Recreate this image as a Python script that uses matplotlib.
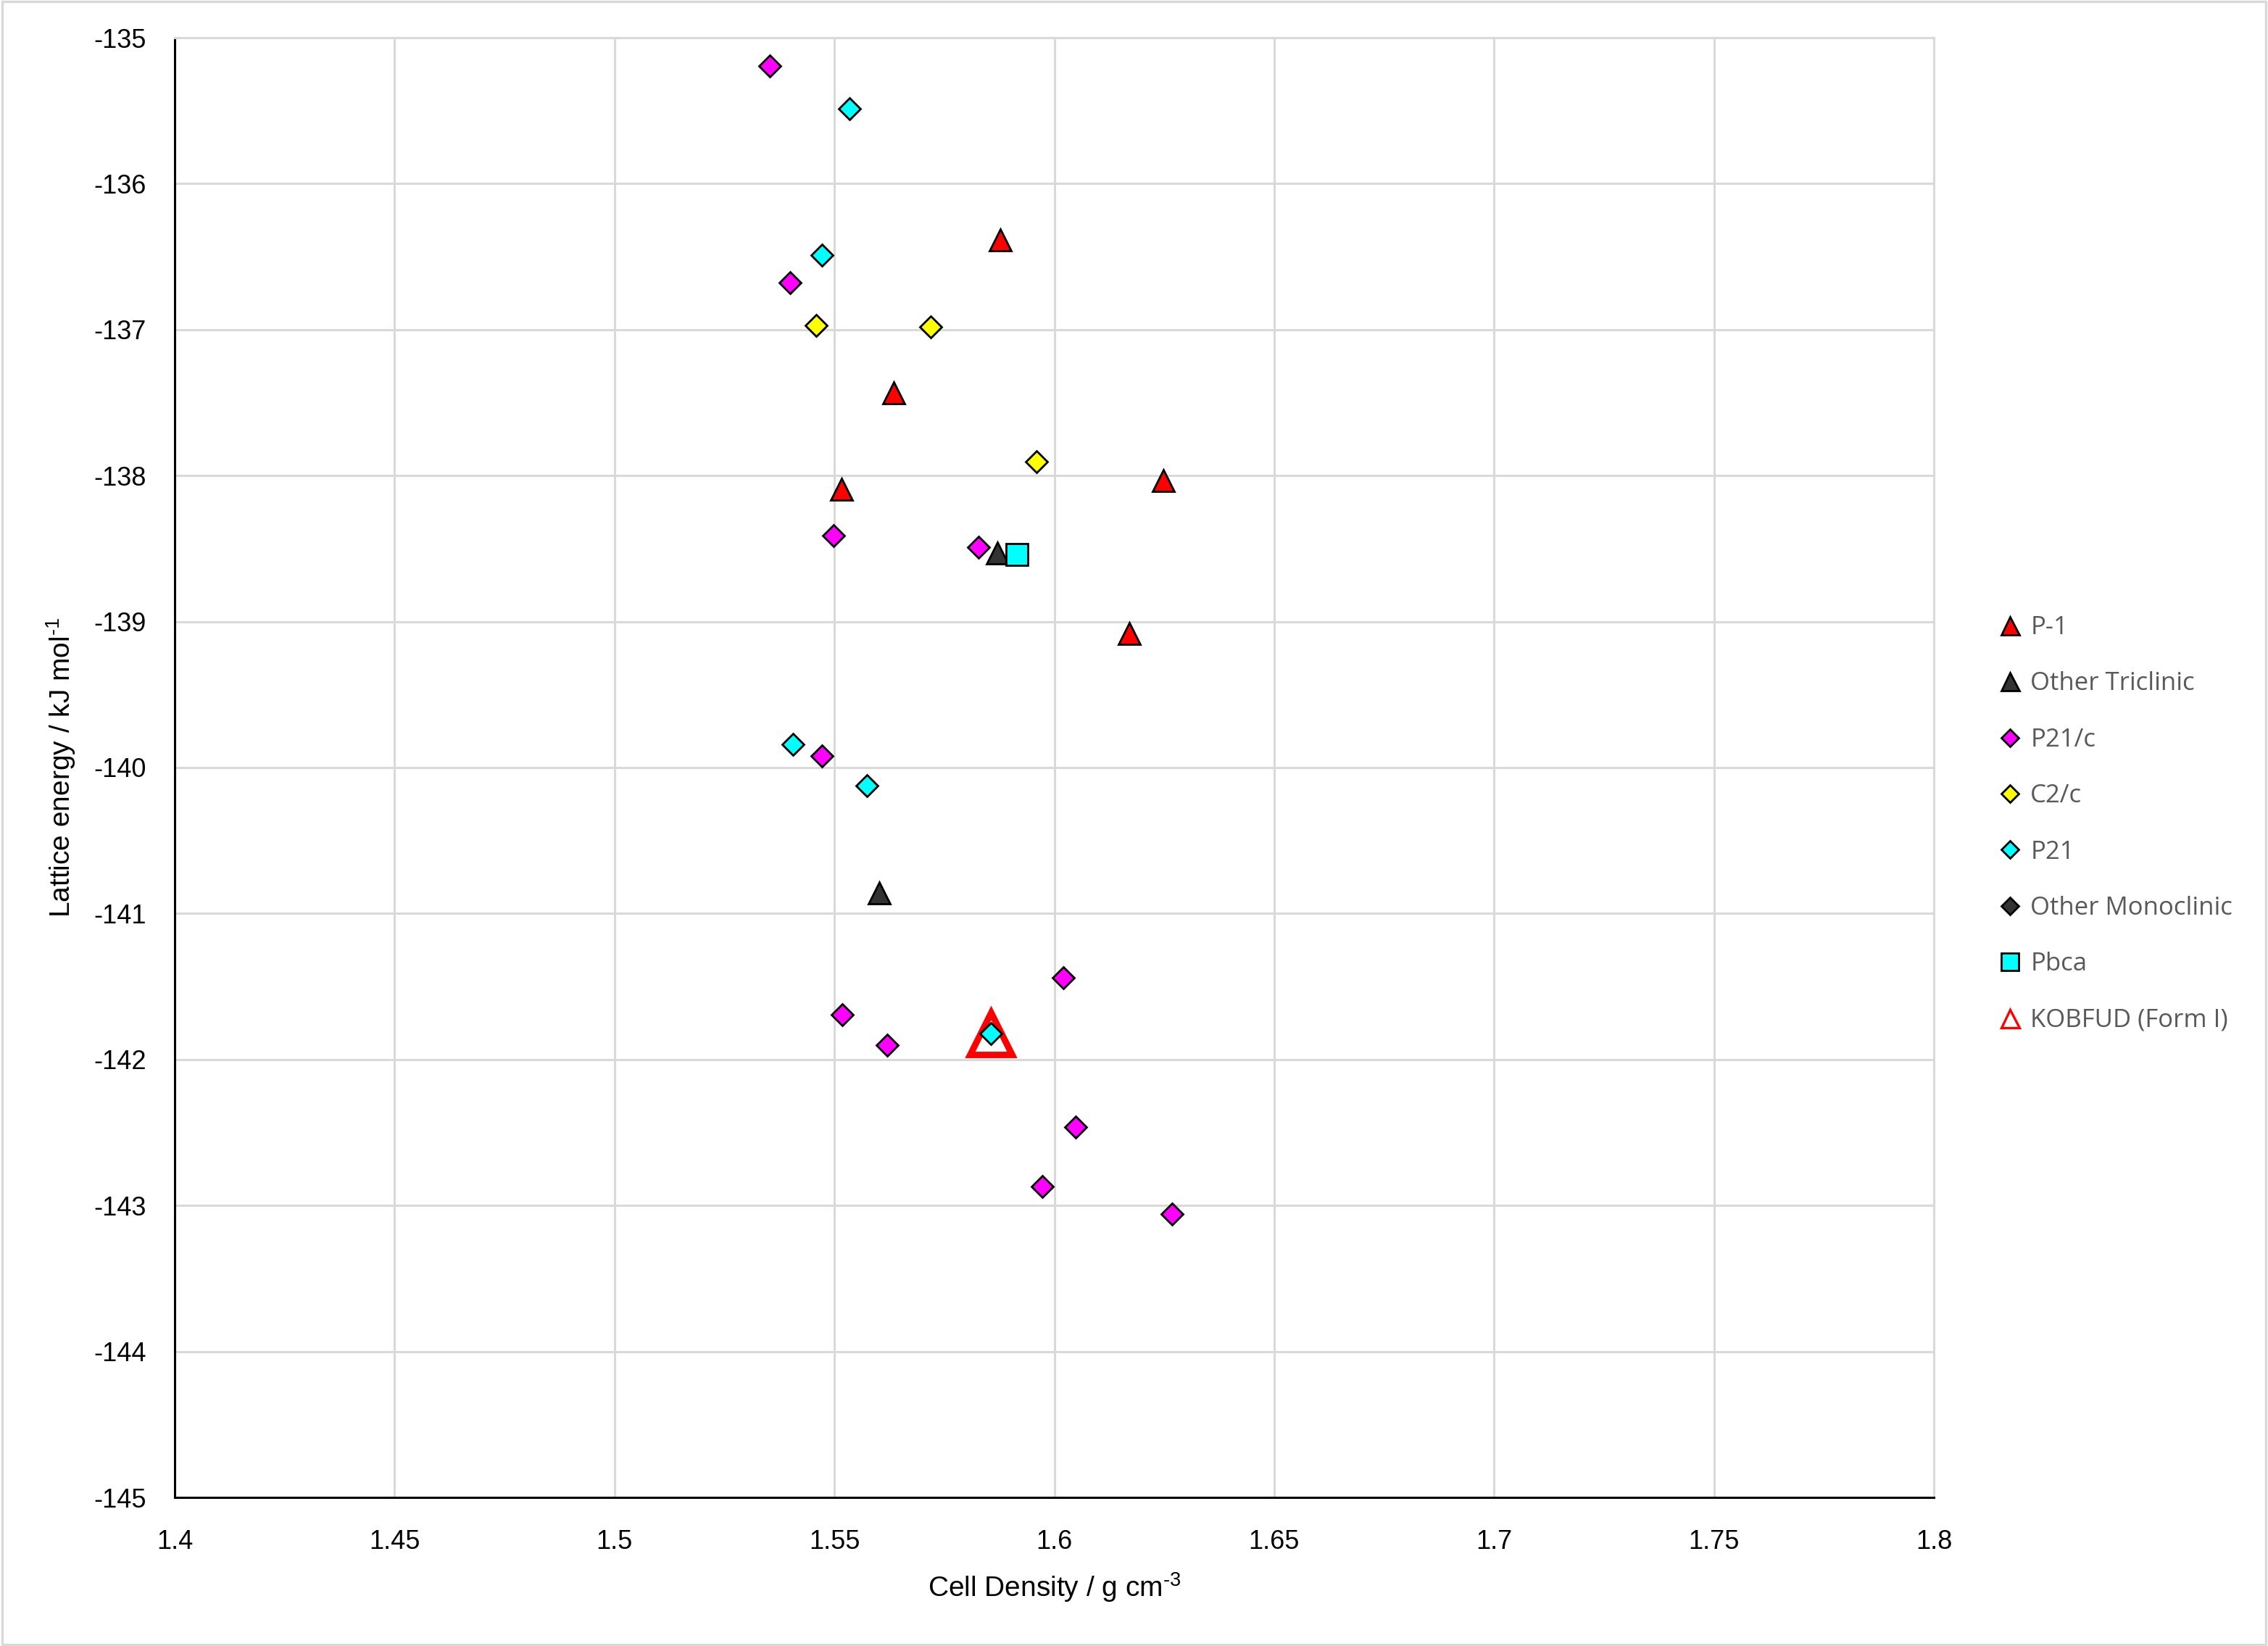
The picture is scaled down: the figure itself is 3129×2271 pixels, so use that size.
import matplotlib
matplotlib.use("Agg")
import matplotlib.pyplot as plt
from matplotlib.lines import Line2D
from matplotlib.patches import Rectangle

plt.rcParams['axes.unicode_minus'] = False
plt.rcParams['mathtext.fontset'] = 'custom'
plt.rcParams['mathtext.rm'] = 'Liberation Sans'

# data (density g/cm3, lattice energy kJ/mol)
p1_x = [1.5878, 1.5635, 1.6248, 1.5516, 1.6170]
p1_y = [-136.383, -137.431, -138.033, -138.091, -139.081]

tric_x = [1.5871, 1.5602]
tric_y = [-138.531, -140.857]

p21c_x = [1.5353, 1.5399, 1.5498, 1.5827, 1.5471, 1.6020, 1.5518, 1.5620, 1.6048, 1.5973, 1.6267]
p21c_y = [-135.192, -136.679, -138.413, -138.492, -139.920, -141.438, -141.695, -141.903,
          -142.461, -142.871, -143.059]

c2c_x = [1.5459, 1.5719, 1.5959]
c2c_y = [-136.971, -136.980, -137.907]

p21_x = [1.5535, 1.5471, 1.5406, 1.5574, 1.5855]
p21_y = [-135.485, -136.491, -139.841, -140.123, -141.824]

mono_x = []
mono_y = []

pbca_x = [1.5915]
pbca_y = [-138.538]

kobfud_x = [1.5855]
kobfud_y = [-141.824]

x_ticks = [1.4, 1.45, 1.5, 1.55, 1.6, 1.65, 1.7, 1.75, 1.8]
y_ticks = [-145, -144, -143, -142, -141, -140, -139, -138, -137, -136, -135]

W, H = 3129, 2271
dpi = 200
fig = plt.figure(figsize=(W / dpi, H / dpi), dpi=dpi)
ax = fig.add_axes([241 / W, 1 - 2066 / H, (2668 - 241) / W, (2066 - 52) / H])

# chart border
fig.patches.append(Rectangle((0.001, 0.001), 0.998, 0.998, transform=fig.transFigure,
                             fill=False, edgecolor='#d9d9d9', linewidth=1.2))

edge = dict(markeredgecolor='black', markeredgewidth=1.0, linestyle='none')
ax.plot(kobfud_x, kobfud_y, marker='^', markersize=21, markerfacecolor='none',
        markeredgecolor='#ff0000', markeredgewidth=3.2, linestyle='none', zorder=3)
ax.plot(p1_x, p1_y, marker='^', markersize=11, markerfacecolor='#ff0000', zorder=4, **edge)
ax.plot(p21c_x, p21c_y, marker='D', markersize=7.6, markerfacecolor='#ff00ff', zorder=4, **edge)
ax.plot(tric_x, tric_y, marker='^', markersize=11, markerfacecolor='#333333', zorder=4, **edge)
ax.plot(c2c_x, c2c_y, marker='D', markersize=7.6, markerfacecolor='#ffff00', zorder=4, **edge)
ax.plot(p21_x, p21_y, marker='D', markersize=7.6, markerfacecolor='#00ffff', zorder=4, **edge)
ax.plot(mono_x, mono_y, marker='D', markersize=7.6, markerfacecolor='#333333', zorder=4, **edge)
ax.plot(pbca_x, pbca_y, marker='s', markersize=11, markerfacecolor='#00ffff', zorder=4, **edge)

ax.set_xlim(1.4, 1.8)
ax.set_ylim(-145, -135)
ax.set_xticks(x_ticks)
ax.set_xticklabels([f"{v:g}" for v in x_ticks])
ax.set_yticks(y_ticks)
ax.set_yticklabels([f"{v:g}" for v in y_ticks])
ax.grid(True, color='#d9d9d9', linewidth=1.1)
ax.set_axisbelow(True)
for s in ['top', 'right']:
    ax.spines[s].set_color('#d9d9d9')
    ax.spines[s].set_linewidth(1.1)
for s in ['left', 'bottom']:
    ax.spines[s].set_color('black')
    ax.spines[s].set_linewidth(1.1)
ax.tick_params(length=0, labelsize=13, labelcolor='black')
ax.tick_params(axis='x', pad=16)
ax.tick_params(axis='y', pad=14)
for t in ax.get_xticklabels() + ax.get_yticklabels():
    t.set_family(['Liberation Sans'])

ax.set_xlabel(r'Cell Density / g cm$^{\text{-3}}$', fontsize=14, family='Liberation Sans',
              labelpad=8)
ax.set_ylabel(r'Lattice energy / kJ mol$^{\text{-1}}$', fontsize=14, family='Liberation Sans',
              labelpad=8)

handles = [
    Line2D([], [], marker='^', markersize=9, markerfacecolor='#ff0000', **edge),
    Line2D([], [], marker='^', markersize=9, markerfacecolor='#333333', **edge),
    Line2D([], [], marker='D', markersize=6.3, markerfacecolor='#ff00ff', **edge),
    Line2D([], [], marker='D', markersize=6.3, markerfacecolor='#ffff00', **edge),
    Line2D([], [], marker='D', markersize=6.3, markerfacecolor='#00ffff', **edge),
    Line2D([], [], marker='D', markersize=6.3, markerfacecolor='#333333', **edge),
    Line2D([], [], marker='s', markersize=8.5, markerfacecolor='#00ffff', **edge),
    Line2D([], [], marker='^', markersize=9, markerfacecolor='none', markeredgecolor='#ff0000',
           markeredgewidth=1.2, linestyle='none'),
]
labels = ['P-1', 'Other Triclinic', 'P21/c', 'C2/c', 'P21', 'Other Monoclinic', 'Pbca',
          'KOBFUD (Form I)']
leg = fig.legend(handles, labels, loc='upper left', bbox_to_anchor=(2763 / W, 1 - 849 / H),
                 frameon=False, handlelength=0.6, handletextpad=0.5, labelspacing=1.25,
                 borderpad=0, borderaxespad=0, prop={'family': 'Open Sans', 'size': 12.5})
for t in leg.get_texts():
    t.set_color('#595959')

fig.savefig('out.png', dpi=dpi)
